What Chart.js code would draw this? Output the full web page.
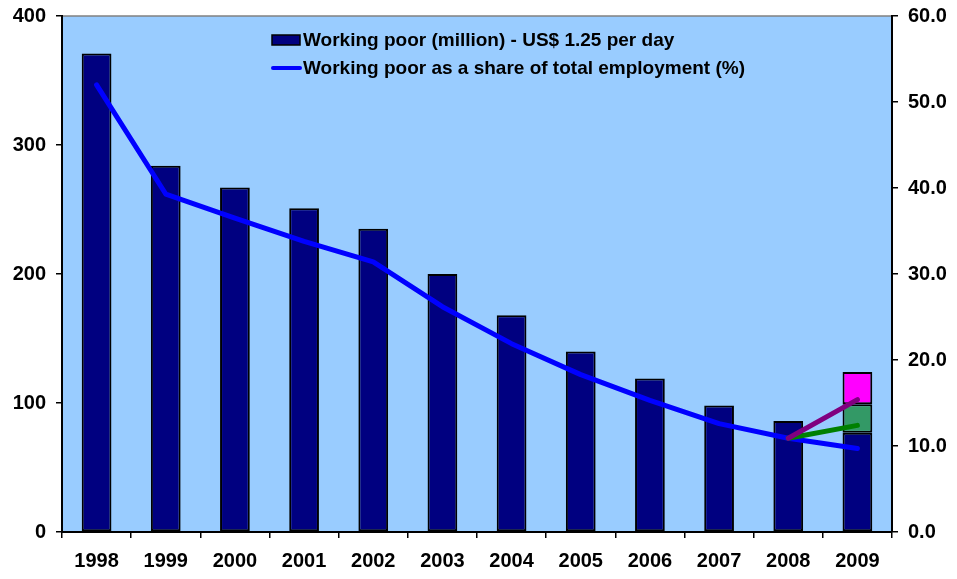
<!DOCTYPE html>
<html>
<head>
<meta charset="utf-8">
<script src="https://cdn.jsdelivr.net/npm/chart.js@4/dist/chart.umd.min.js"></script>
<style>
  body { margin: 0; background: #fff; }
  canvas { display: block; }
</style>
</head>
<body>
<canvas id="wp-chart" width="957" height="579"></canvas>
<script>
// Working poor, 1998-2009
const years = ['1998', '1999', '2000', '2001', '2002', '2003', '2004', '2005', '2006', '2007', '2008', '2009'];
const workingPoor = [371, 284, 267, 251, 235, 200, 168, 140, 119, 98, 86, 77];
const scenarioLow = [null, null, null, null, null, null, null, null, null, null, null, 22];
const scenarioHigh = [null, null, null, null, null, null, null, null, null, null, null, 25];
const sharePct = [52.0, 39.3, 36.5, 33.8, 31.4, 26.2, 21.9, 18.3, 15.3, 12.6, 10.9, 9.7];
const shareLow = [null, null, null, null, null, null, null, null, null, null, 10.9, 12.4];
const shareHigh = [null, null, null, null, null, null, null, null, null, null, 10.9, 15.4];
const leftTicks = [0, 100, 200, 300, 400];
const rightTicks = [0, 10, 20, 30, 40, 50, 60];

const FONT = 'Liberation Sans, Arial, sans-serif';

// light blue plot area with grey top edge
const plotBg = {
  id: 'plotBg',
  beforeDraw(chart) {
    const { ctx, chartArea: a } = chart;
    ctx.save();
    ctx.fillStyle = '#99CCFF';
    ctx.fillRect(a.left, a.top, a.right - a.left, a.bottom - a.top);
    ctx.strokeStyle = '#808080';
    ctx.lineWidth = 1.5;
    ctx.beginPath();
    ctx.moveTo(a.left, a.top);
    ctx.lineTo(a.right, a.top);
    ctx.stroke();
    ctx.restore();
  },
};

// legend sits inside the plot area, left aligned, two rows
const insideLegend = {
  id: 'insideLegend',
  afterDraw(chart) {
    const { ctx } = chart;
    const items = chart.data.datasets.filter(d => d.inLegend);
    const x = 272, rowY = [40, 68];
    ctx.save();
    ctx.font = 'bold 19px ' + FONT;
    ctx.textBaseline = 'middle';
    items.forEach((d, i) => {
      const y = rowY[i];
      if (d.type === 'line') {
        ctx.strokeStyle = d.borderColor;
        ctx.lineWidth = 4;
        ctx.lineCap = 'round';
        ctx.beginPath();
        ctx.moveTo(x + 1, y);
        ctx.lineTo(x + 28, y);
        ctx.stroke();
      } else {
        ctx.fillStyle = d.backgroundColor;
        ctx.fillRect(x, y - 5, 28, 10);
        ctx.strokeStyle = '#000';
        ctx.lineWidth = 1.5;
        ctx.strokeRect(x, y - 5, 28, 10);
      }
      ctx.fillStyle = '#000';
      ctx.fillText(d.label, x + 31, y + 1);
    });
    ctx.restore();
  },
};

const barStyle = { borderColor: '#000', borderWidth: 2, borderSkipped: false,
  categoryPercentage: 1, barPercentage: 0.43, yAxisID: 'y', stack: 'wp', order: 5 };
const lineStyle = { type: 'line', yAxisID: 'y1', pointRadius: 0, borderWidth: 5,
  borderCapStyle: 'round', borderJoinStyle: 'round', tension: 0, fill: false };

new Chart(document.getElementById('wp-chart'), {
  type: 'bar',
  data: {
    labels: years,
    datasets: [
      { ...barStyle, label: 'Working poor (million) - US$ 1.25 per day', data: workingPoor,
        backgroundColor: '#000080', inLegend: true },
      { ...lineStyle, label: 'Working poor as a share of total employment (%)', data: sharePct,
        borderColor: '#0000FF', order: 2, inLegend: true },
      { ...barStyle, label: 'low', data: scenarioLow, backgroundColor: '#339966' },
      { ...barStyle, label: 'high', data: scenarioHigh, backgroundColor: '#FF00FF' },
      { ...lineStyle, label: 'share low', data: shareLow, borderColor: '#008000', order: 1 },
      { ...lineStyle, label: 'share high', data: shareHigh, borderColor: '#800080', order: 0 },
    ],
  },
  options: {
    responsive: false,
    animation: false,
    layout: { padding: { top: 16, left: 0, right: 0, bottom: 0 } },
    plugins: { legend: { display: false }, tooltip: { enabled: false } },
    scales: {
      x: {
        stacked: true,
        grid: { offset: true, drawOnChartArea: false, drawTicks: true, tickLength: 6, color: '#000', lineWidth: 1.5 },
        border: { color: '#000', width: 2 },
        ticks: { color: '#000', font: { family: FONT, size: 20, weight: 'bold' }, padding: 11, maxRotation: 0 },
        afterFit: s => { s.height = 47; s.paddingLeft = 0; s.paddingRight = 0; },
      },
      y: {
        stacked: true,
        position: 'left',
        min: 0, max: 400,
        afterBuildTicks: s => { s.ticks = leftTicks.map(v => ({ value: v })); },
        grid: { drawOnChartArea: false, drawTicks: true, tickLength: 6, color: '#000', lineWidth: 1.5 },
        border: { color: '#000', width: 2 },
        ticks: { color: '#000', font: { family: FONT, size: 20, weight: 'bold' }, padding: 10 },
        afterFit: s => { s.width = 62; s.paddingTop = 0; s.paddingBottom = 0; },
      },
      y1: {
        position: 'right',
        min: 0, max: 60,
        afterBuildTicks: s => { s.ticks = rightTicks.map(v => ({ value: v })); },
        grid: { drawOnChartArea: false, drawTicks: true, tickLength: 6, color: '#000', lineWidth: 1.5 },
        border: { color: '#000', width: 2 },
        ticks: { color: '#000', font: { family: FONT, size: 20, weight: 'bold' }, padding: 10,
          callback: v => Number(v).toFixed(1) },
        afterFit: s => { s.width = 65; s.paddingTop = 0; s.paddingBottom = 0; },
      },
    },
  },
  plugins: [plotBg, insideLegend],
});
</script>
</body>
</html>
